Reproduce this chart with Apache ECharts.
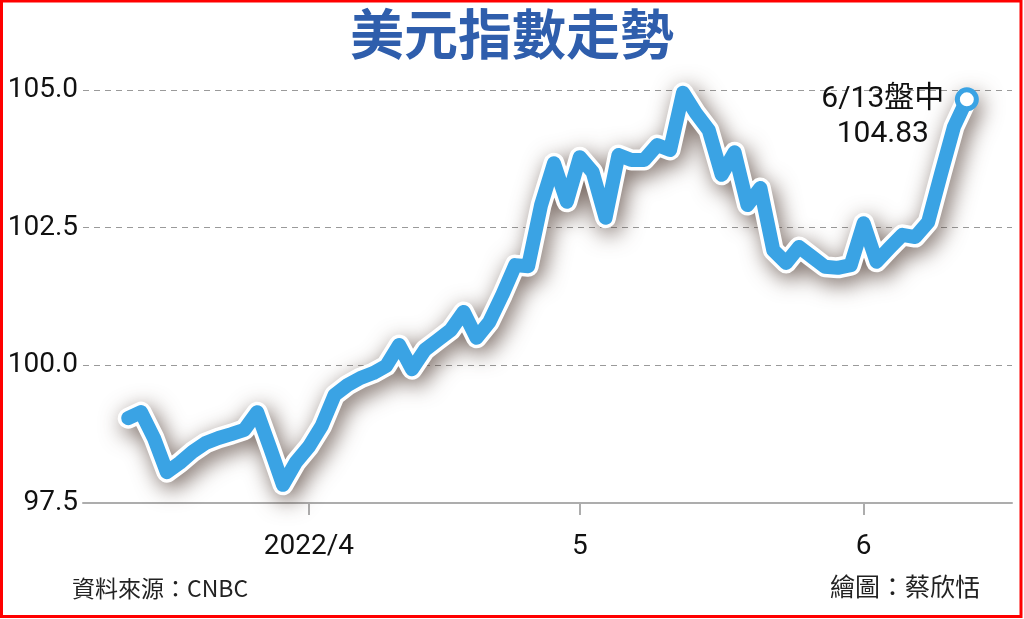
<!DOCTYPE html>
<html>
<head>
<meta charset="utf-8">
<script src="https://cdn.jsdelivr.net/npm/echarts@6/dist/echarts.min.js"></script>
<style>
html,body{margin:0;padding:0;background:#fff;}
#chart{width:1024px;height:619px;}
</style>
</head>
<body>
<div id="chart"></div>
<script>
// trading days (weekdays) shown on the axis
const dates = [
 '2022-03-09','2022-03-10','2022-03-11','2022-03-14','2022-03-15','2022-03-16','2022-03-17','2022-03-18',
 '2022-03-21','2022-03-22','2022-03-23','2022-03-24','2022-03-25','2022-03-28','2022-03-29','2022-03-30','2022-03-31',
 '2022-04-01','2022-04-04','2022-04-05','2022-04-06','2022-04-07','2022-04-08','2022-04-11','2022-04-12','2022-04-13',
 '2022-04-14','2022-04-15','2022-04-18','2022-04-19','2022-04-20','2022-04-21','2022-04-22','2022-04-25','2022-04-26',
 '2022-04-27','2022-04-28','2022-04-29','2022-05-02','2022-05-03','2022-05-04','2022-05-05','2022-05-06','2022-05-09',
 '2022-05-10','2022-05-11','2022-05-12','2022-05-13','2022-05-16','2022-05-17','2022-05-18','2022-05-19','2022-05-20',
 '2022-05-23','2022-05-24','2022-05-25','2022-05-26','2022-05-27','2022-05-30','2022-05-31','2022-06-01','2022-06-02',
 '2022-06-03','2022-06-06','2022-06-07','2022-06-08','2022-06-09','2022-06-10','2022-06-13','2022-06-14','2022-06-15','2022-06-16'
];
// US dollar index values (null = no data drawn)
const dxy = [
 null,null,null,99.04,99.15,98.68,98.06,98.23,
 98.43,98.59,98.68,98.75,98.83,99.15,98.50,97.83,98.24,
 98.52,98.90,99.46,99.64,99.77,99.86,99.99,100.37,99.93,
 100.28,100.46,100.64,100.97,100.50,100.79,101.28,101.82,101.80,
 102.91,103.67,102.97,103.78,103.51,102.68,103.82,103.73,103.73,
 104.00,103.91,104.95,104.58,104.27,103.46,103.87,102.91,103.22,
 102.09,101.86,102.15,101.97,101.79,101.77,101.82,102.58,101.88,
 102.13,102.37,102.33,102.60,103.48,104.33,104.83,null,null,null
];
const tickDates = ['2022-04-01','2022-05-02','2022-06-01'];
const tickLabels = ['2022/4','5','6'];
const yTicks = [97.5, 100.0, 102.5, 105.0];
const titleText = '美元指數走勢';
const annotLabel = '6/13盤中';
const sourceText = '資料來源：CNBC';
const artistText = '繪圖：蔡欣恬';

const BLUE = '#3AA3E4';
let lastIdx = -1;
dxy.forEach((v,i)=>{ if(v!==null) lastIdx = i; });

const blueData = dxy.map((v,i)=> i===lastIdx ? {
  value: v, symbol:'circle', symbolSize: 19,
  itemStyle:{color:'#fff', borderColor:BLUE, borderWidth:5},
  label:{show:true, position:'left', distance:0, align:'center', verticalAlign:'middle',
    offset:[-72, 18], fontSize:30, lineHeight:35, color:'#111', fontFamily:'Roboto, "Noto Sans CJK TC", sans-serif',
    formatter: p => annotLabel + '\n' + Number(p.value).toFixed(2)}
} : (v===null ? '-' : v));
const whiteData = dxy.map(v => v===null ? '-' : v);

const chart = echarts.init(document.getElementById('chart'), null, {renderer:'canvas'});
chart.setOption({
  backgroundColor:'#fff',
  animation:false,
  title:{
    text:titleText, left:'center', top:2,
    textStyle:{fontSize:54, fontWeight:'bold', color:'#2F5EAC', fontFamily:'"Noto Sans CJK TC", sans-serif'}
  },
  grid:{left:83, right:12, top:90, bottom:116, containLabel:false},
  xAxis:{
    type:'category', data:dates, boundaryGap:true,
    axisLine:{show:true, lineStyle:{color:'#ADADAD', width:2}},
    axisTick:{show:true, alignWithLabel:true, length:12, lineStyle:{color:'#ADADAD', width:2},
      interval:(i,v)=> tickDates.indexOf(v) >= 0},
    axisLabel:{show:true, margin:30, fontSize:28, color:'#111', fontFamily:'Roboto, sans-serif',
      interval:(i,v)=> tickDates.indexOf(v) >= 0,
      formatter:(v)=> { const k = tickDates.indexOf(v); return k>=0 ? tickLabels[k] : ''; }},
    splitLine:{show:false}
  },
  yAxis:{
    type:'value', min:yTicks[0], max:yTicks[yTicks.length-1], interval:2.5,
    axisLine:{show:false}, axisTick:{show:false},
    axisLabel:{margin:5, fontSize:28, color:'#111', fontFamily:'Roboto, sans-serif',
      formatter:(v)=> v.toFixed(1)},
    splitLine:{show:true, lineStyle:{color:'#9A9A9A', type:[6,5], width:1}}
  },
  series:[
    {
      type:'line', data:whiteData, symbol:'none', clip:false, silent:true, z:2,
      lineStyle:{color:'#fff', width:21, join:'round', cap:'round',
        shadowColor:'rgba(75,55,45,0.75)', shadowBlur:22, shadowOffsetX:4, shadowOffsetY:6}
    },
    {
      type:'line', data:blueData, symbol:'none', showAllSymbol:true, clip:false, silent:true, z:3,
      lineStyle:{color:BLUE, width:14, join:'round', cap:'round'}
    }
  ],
  graphic:[
    {type:'text', left:72, top:577, style:{text:sourceText, fontSize:23, fill:'#222', fontFamily:'"Noto Sans CJK TC", sans-serif'}},
    {type:'text', left:830, top:574, style:{text:artistText, fontSize:25, fill:'#222', fontFamily:'"Noto Sans CJK TC", sans-serif'}},
    {type:'rect', shape:{x:1.5, y:1, width:1019.5, height:615.5}, style:{fill:'none', stroke:'#FF0000', lineWidth:3}, z:100}
  ]
});
</script>
</body>
</html>
